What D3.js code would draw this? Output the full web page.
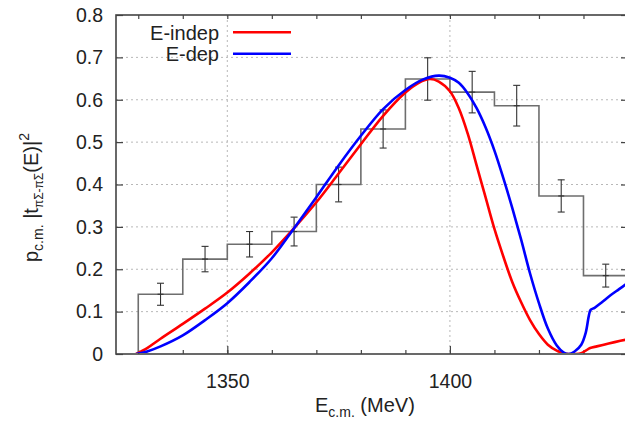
<!DOCTYPE html>
<html><head><meta charset="utf-8">
<script src="https://cdn.jsdelivr.net/npm/d3@7"></script>
<style>
html,body{margin:0;padding:0;background:#fff;}
svg{display:block;}
text{font-family:"Liberation Sans",Arial,Helvetica,sans-serif;fill:#222;}
</style></head>
<body>
<svg id="chart" width="625" height="426"></svg>
<script>
// ---- data ----
const xTicksMajor = [1350, 1400];
const xTicksMinor = [1330, 1340, 1350, 1360, 1370, 1380, 1390, 1400, 1410, 1420, 1430, 1440];
const yTicks = [0, 0.1, 0.2, 0.3, 0.4, 0.5, 0.6, 0.7, 0.8];
const yTickLabels = ["0", "0.1", "0.2", "0.3", "0.4", "0.5", "0.6", "0.7", "0.8"];

const binEdges = [1330, 1340, 1350, 1360, 1370, 1380, 1390, 1400, 1410, 1420, 1430, 1440];
const histValues = [0.141, 0.224, 0.259, 0.289, 0.40, 0.531, 0.649, 0.618, 0.586, 0.373, 0.185];

const pointE = [1335, 1345, 1355, 1365, 1375, 1385, 1395, 1405, 1415, 1425, 1435];
const pointV = [0.141, 0.224, 0.259, 0.289, 0.40, 0.531, 0.649, 0.618, 0.586, 0.373, 0.185];
const pointErr = [0.026, 0.03, 0.03, 0.034, 0.041, 0.045, 0.05, 0.049, 0.048, 0.038, 0.027];

const redE = [1329.5,1332,1335,1340,1345,1350,1355,1360,1365,1370,1375,1380,1385,1390,1393,1395.5,1397.5,1400,1402,1404,1406,1408,1410,1412,1414,1416,1418,1420,1422,1424,1425.5,1426.6,1428,1429.5,1430.5,1431.5,1433,1435,1437,1440];
const redV = [0,0.014,0.036,0.071,0.107,0.145,0.19,0.24,0.297,0.358,0.426,0.495,0.562,0.617,0.64,0.649,0.643,0.62,0.58,0.52,0.445,0.37,0.295,0.23,0.17,0.122,0.08,0.047,0.022,0.008,0.002,0,0,0.002,0.008,0.014,0.018,0.023,0.028,0.035];

const blueE = [1329.5,1332,1335,1340,1345,1350,1355,1360,1365,1370,1375,1380,1385,1390,1394,1397.5,1400,1402,1404,1406,1408,1410,1412,1414,1416,1418,1420,1422,1424,1425.5,1426.7,1428,1429.5,1430.5,1431.2,1431.6,1432.5,1434,1436,1438,1440];
const blueV = [0,0.006,0.018,0.044,0.08,0.12,0.17,0.226,0.297,0.37,0.445,0.515,0.578,0.623,0.648,0.657,0.652,0.64,0.615,0.58,0.535,0.48,0.415,0.345,0.27,0.19,0.12,0.06,0.02,0.004,0,0.006,0.022,0.05,0.09,0.104,0.109,0.121,0.138,0.153,0.168];

const seriesNames = ["E-indep", "E-dep"];
const seriesColors = ["#ff0000", "#0000ff"];

// ---- layout ----
const L = 116, R = 628, T = 15, B = 354;
const svg = d3.select("#chart");
const x = d3.scaleLinear().domain([1325, 1440]).range([L, R]);
const y = d3.scaleLinear().domain([0, 0.8]).range([B, T]);

svg.append("defs").append("clipPath").attr("id", "clip")
  .append("rect").attr("x", L).attr("y", T - 2).attr("width", R - L).attr("height", B - T + 1);

// grid
const grid = svg.append("g").attr("stroke", "#b8b8b8").attr("stroke-width", 1).attr("stroke-dasharray", "2,3");
grid.selectAll("line.h").data(yTicks.filter(v => v > 0 && v < 0.8)).join("line")
  .attr("x1", L).attr("x2", R).attr("y1", d => y(d)).attr("y2", d => y(d));
grid.selectAll("line.v").data(xTicksMajor).join("line")
  .attr("x1", d => x(d)).attr("x2", d => x(d)).attr("y1", T).attr("y2", B);

// axes with ticks (inward)
const frame = svg.append("g");
const axB = d3.axisBottom(x).tickValues(xTicksMinor).tickSize(-4).tickFormat("");
const axT = d3.axisTop(x).tickValues(xTicksMinor).tickSize(-4).tickFormat("");
const axBm = d3.axisBottom(x).tickValues(xTicksMajor).tickSize(-8).tickFormat(d3.format("d")).tickPadding(20);
const axL = d3.axisLeft(y).tickValues(yTicks).tickSize(-7).tickFormat((d, i) => yTickLabels[i]).tickPadding(13);
const axR = d3.axisRight(y).tickValues(yTicks).tickSize(-7).tickFormat("");
function style(g){ g.select(".domain").remove(); g.selectAll("line").attr("stroke", "#444").attr("stroke-width", 1.2); g.selectAll("text").attr("font-size", 19.5).attr("fill", "#222").attr("font-family", "Liberation Sans, Arial, sans-serif"); }
frame.append("g").attr("transform", `translate(0,${B})`).call(axB).call(style);
frame.append("g").attr("transform", `translate(0,${T})`).call(axT).call(style);
frame.append("g").attr("transform", `translate(0,${B})`).call(axBm).call(style);
frame.append("g").attr("transform", `translate(${L},0)`).call(axL).call(style);
frame.append("g").attr("transform", `translate(${R},0)`).call(axR).call(style);

// histogram
const stepPts = [[binEdges[0], 0]];
histValues.forEach((v, i) => { stepPts.push([binEdges[i], v]); stepPts.push([binEdges[i + 1], v]); });
const plot = svg.append("g").attr("clip-path", "url(#clip)");
plot.append("path").datum(stepPts)
  .attr("d", d3.line().x(d => x(d[0])).y(d => y(d[1])))
  .attr("fill", "none").attr("stroke", "#6e6e6e").attr("stroke-width", 1.6);

// error bars
const eb = plot.append("g").attr("stroke", "#333").attr("stroke-width", 1.1);
pointE.forEach((e, i) => {
  const cx = x(e), v = pointV[i], er = pointErr[i];
  eb.append("line").attr("x1", cx).attr("x2", cx).attr("y1", y(v - er)).attr("y2", y(v + er));
  eb.append("line").attr("x1", cx - 3.5).attr("x2", cx + 3.5).attr("y1", y(v - er)).attr("y2", y(v - er));
  eb.append("line").attr("x1", cx - 3.5).attr("x2", cx + 3.5).attr("y1", y(v + er)).attr("y2", y(v + er));
  eb.append("line").attr("x1", cx - 3).attr("x2", cx + 3).attr("y1", y(v)).attr("y2", y(v));
});

// curves
const curveLine = d3.line().x(d => x(d[0])).y(d => y(d[1])).curve(d3.curveCatmullRom.alpha(0.5));
plot.append("path").datum(redE.map((e, i) => [e, redV[i]])).attr("d", curveLine)
  .attr("fill", "none").attr("stroke", seriesColors[0]).attr("stroke-width", 2.6);
plot.append("path").datum(blueE.map((e, i) => [e, blueV[i]])).attr("d", curveLine)
  .attr("fill", "none").attr("stroke", seriesColors[1]).attr("stroke-width", 2.6);

// frame border
svg.append("rect").attr("x", L).attr("y", T).attr("width", R - L).attr("height", B - T)
  .attr("fill", "none").attr("stroke", "#444").attr("stroke-width", 1.6);

// legend
const leg = svg.append("g");
seriesNames.forEach((n, i) => {
  const ly = 32.3 + i * 21.5;
  leg.append("text").attr("x", 219).attr("y", ly + 7.5).attr("text-anchor", "end")
    .attr("font-size", 20).text(n);
  leg.append("line").attr("x1", 233).attr("x2", 291).attr("y1", ly).attr("y2", ly)
    .attr("stroke", seriesColors[i]).attr("stroke-width", 2.6);
});

// x label
const xl = svg.append("text").attr("x", 315).attr("y", 412).attr("font-size", 20);
xl.append("tspan").text("E");
xl.append("tspan").attr("font-size", 14).attr("dy", 5).text("c.m.");
xl.append("tspan").attr("dy", -5).text(" (MeV)");

// y label
const yl = svg.append("text").attr("transform", "translate(38,262) rotate(-90)").attr("font-size", 20);
yl.append("tspan").text("p");
yl.append("tspan").attr("font-size", 14).attr("dy", 5).text("c.m.");
yl.append("tspan").attr("dy", -5).text(" |t");
yl.append("tspan").attr("font-size", 12).attr("dy", 5).text("πΣ-πΣ");
yl.append("tspan").attr("dy", -5).text("(E)|");
yl.append("tspan").attr("font-size", 14).attr("dy", -9).text("2");
</script>
</body></html>
